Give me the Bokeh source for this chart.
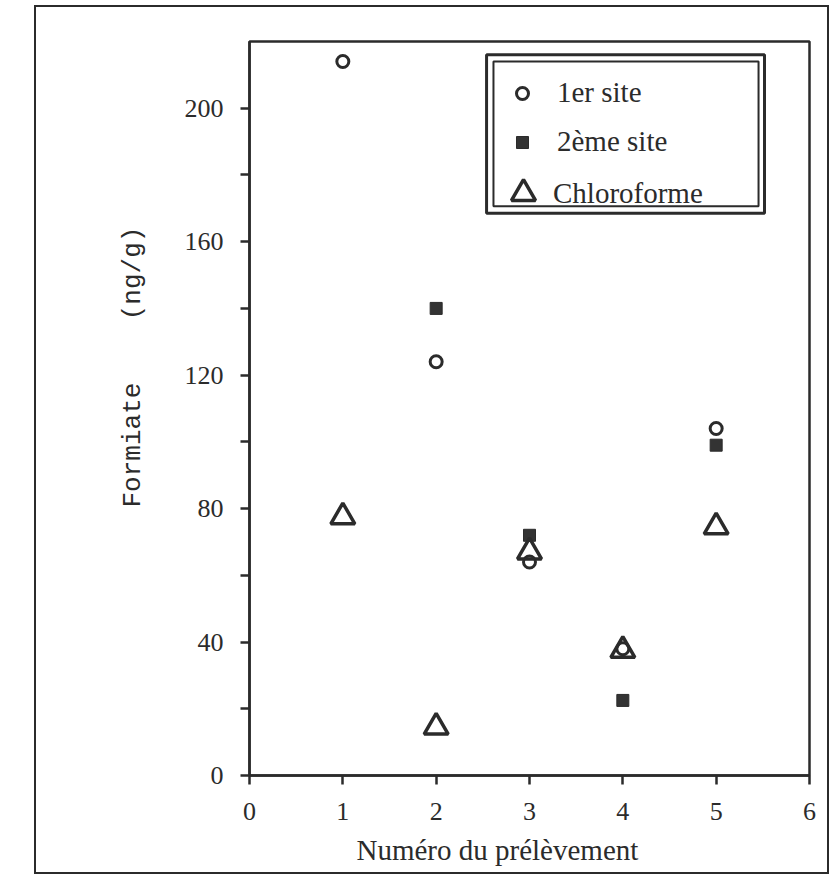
from bokeh.plotting import figure
from bokeh.models import Range1d, FixedTicker, Legend, LegendItem, BoxAnnotation, Title
from bokeh.embed import file_html
from bokeh.resources import INLINE

# --- data ---
site1_x = [1, 2, 3, 4, 5]
site1_y = [214, 124, 64, 38, 104]
site2_x = [2, 3, 4, 5]
site2_y = [140, 72, 22.5, 99]
chloro_x = [1, 2, 3, 4, 5]
chloro_y = [77.5, 14.5, 67, 37.5, 74.5]
x_ticks = [0, 1, 2, 3, 4, 5, 6]
y_ticks = [0, 40, 80, 120, 160, 200]
y_minor = [20, 60, 100, 140, 180]
series_names = ["1er site", "2ème site", "Chloroforme"]
x_title = "Numéro du prélèvement"
y_title = "Formiate\u00a0\u00a0\u00a0\u00a0(ng/g)"

INK = "#2b2b2b"
FONT = "Liberation Serif"

p = figure(width=795, height=869, x_range=Range1d(0, 6), y_range=Range1d(0, 220),
           output_backend="svg", toolbar_location=None,
           min_border_left=213, min_border_right=22, min_border_top=34, min_border_bottom=101,
           margin=(5, 0, 0, 34))
p.styles = {"border": f"2px solid {INK}", "box-sizing": "border-box"}
p.xgrid.visible = False
p.ygrid.visible = False
p.outline_line_color = INK
p.outline_line_width = 2.5
p.outline_line_alpha = 1

for ax in (p.xaxis[0], p.yaxis[0]):
    ax.axis_line_color = INK
    ax.axis_line_width = 2.5
    ax.major_tick_line_color = INK
    ax.major_tick_line_width = 2.5
    ax.minor_tick_line_color = INK
    ax.minor_tick_line_width = 2.5
    ax.major_label_text_font = FONT
    ax.major_label_text_font_size = "26px"
    ax.major_label_text_color = INK

p.xaxis.ticker = FixedTicker(ticks=x_ticks)
p.xaxis.major_tick_out = 9
p.xaxis.major_tick_in = 0
p.xaxis.major_label_standoff = 18
p.xaxis.minor_tick_out = 0

p.yaxis.ticker = FixedTicker(ticks=y_ticks, minor_ticks=y_minor)
p.yaxis.major_tick_out = 9
p.yaxis.major_tick_in = 0
p.yaxis.minor_tick_out = 9
p.yaxis.minor_tick_in = 0
p.yaxis.major_label_standoff = 17

r1 = p.scatter(site1_x, site1_y, marker="circle", size=12, fill_color=None,
               line_color=INK, line_width=3)
r2 = p.scatter(site2_x, site2_y, marker="square", size=12, fill_color="#333333",
               line_color=INK, line_width=1)
r3 = p.scatter(chloro_x, chloro_y, marker="triangle", size=24, fill_color=None,
               line_color=INK, line_width=3.5)

def make_legend(name, rend, loc, glyph, standoff):
    return Legend(items=[LegendItem(label=name, renderers=[rend])],
                  location=loc, padding=0, margin=0, spacing=0,
                  glyph_height=glyph, glyph_width=glyph, label_height=glyph,
                  label_standoff=standoff,
                  label_text_font=FONT, label_text_font_size="29px", label_text_color=INK,
                  border_line_color=None, background_fill_alpha=0)

p.add_layout(make_legend(series_names[0], r1, (258, 666), 30, 20))
p.add_layout(make_legend(series_names[1], r2, (258, 617), 30, 20))
p.add_layout(make_legend(series_names[2], r3, (244, 552), 60, 0))

# double frame around the legend
p.add_layout(BoxAnnotation(left=2.54, right=5.518, top=216.0, bottom=168.5,
                           fill_alpha=0, line_color=INK, line_alpha=1, line_width=3))
p.add_layout(BoxAnnotation(left=2.614, right=5.454, top=214.0, bottom=170.6,
                           fill_alpha=0, line_color=INK, line_alpha=1, line_width=2))

p.add_layout(Title(text=x_title, align="left", offset=107, standoff=18,
                   text_font=FONT, text_font_size="29px", text_font_style="normal",
                   text_color=INK), "below")
p.add_layout(Title(text=y_title, align="left", offset=268, standoff=68,
                   text_font="Liberation Mono", text_font_size="26px", text_font_style="normal",
                   text_color=INK), "left")

open("out.html", "w").write(file_html(p, INLINE))
